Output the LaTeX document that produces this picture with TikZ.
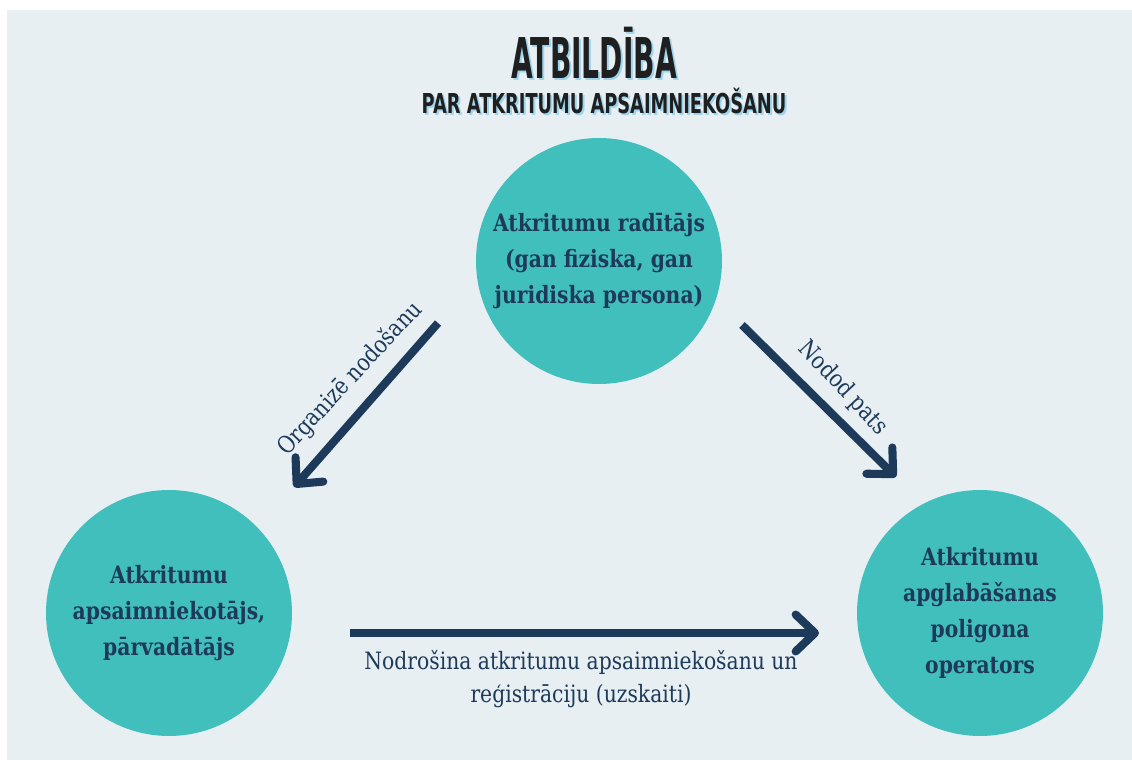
\documentclass[tikz,border=0pt]{standalone}
\usepackage{fontspec}
\usetikzlibrary{arrows.meta}

\setmainfont{DejaVu Serif}
\newfontfamily\headfont{DejaVu Sans}[FakeStretch=0.5]
\newfontfamily\subheadfont{DejaVu Sans}[FakeStretch=0.65]
\newfontfamily\circfont{DejaVu Serif}[FakeStretch=0.85]
\newfontfamily\labfont{DejaVu Serif}[FakeStretch=0.85]

\definecolor{bgcol}{HTML}{E7EFF3}
\definecolor{circcol}{HTML}{41BFBC}
\definecolor{navy}{HTML}{1E3A5A}
\definecolor{shadowcol}{HTML}{9DD4EE}

\begin{document}
\begin{tikzpicture}[x=0.02cm, y=-0.02cm]

% styles
\pgfkeys{/circ/.style={circle, fill=circcol, minimum size=4.92cm, inner sep=0}} % actors
\pgfkeys{/circtext/.style={align=center, text=navy, font=\circfont\bfseries\fontsize{13.6}{20.5}\selectfont}}
\pgfkeys{/link/.style={draw=navy, line width=4.6pt, -{Straight Barb[length=11pt, width=21pt, round]}}} % arrows
\pgfkeys{/lab/.style={text=navy, align=center, font=\labfont\fontsize{13.6}{18.5}\selectfont}} % arrow labels
\pgfkeys{/head/.style={font=\headfont\bfseries\fontsize{32}{32}\selectfont}}
\pgfkeys{/subhead/.style={font=\subheadfont\bfseries\fontsize{15.6}{16}\selectfont}}

%\draw[help lines] (0,0) grid[step=100] (1132,760);

% background
\useasboundingbox (0,0) rectangle (1132,760);
\fill[bgcol] (7,10) rectangle (1132,760);

% title with its shadow
\node[/head, text=shadowcol] (title-shadow) at (596,55) {ATBILDĪBA};
\node[/head, text=black!88] (title) at (594,53) {ATBILDĪBA};
\node[/subhead, text=shadowcol] (subtitle-shadow) at (606,103) {PAR ATKRITUMU APSAIMNIEKOŠANU};
\node[/subhead, text=black!88] (subtitle) at (604,101) {PAR ATKRITUMU APSAIMNIEKOŠANU};

% actors
\node[/circ] (gen) at (599,261) {};
\node[/circ] (mgr) at (169,613) {};
\node[/circ] (landfill) at (980,613) {};
\node[/circtext] (gen-text) at (gen) {Atkritumu radītājs\\(gan fiziska, gan\\juridiska persona)};
\node[/circtext] (mgr-text) at (mgr) {Atkritumu\\apsaimniekotājs,\\pārvadātājs};
\node[/circtext] (landfill-text) at (landfill) {Atkritumu\\apglabāšanas\\poligona\\operators};

% arrow ends
\coordinate (org-a) at (438,323);
\coordinate (org-b) at (294,487);
\coordinate (own-a) at (742,325);
\coordinate (own-b) at (896,477);
\coordinate (reg-a) at (350,633);
\coordinate (reg-b) at (819,633);

\draw[/link] (org-a) -- (org-b);
\draw[/link] (own-a) -- (own-b);
\draw[/link] (reg-a) -- (reg-b);

% labels
\node[/lab, rotate=47] (org-lab) at (350,379) {Organizē nodošanu};
\node[/lab, rotate=-47] (own-lab) at (843,388) {Nodod pats};
\node[/lab] (reg-lab) at (581,679) {Nodrošina atkritumu apsaimniekošanu un\\reģistrāciju (uzskaiti)};

\end{tikzpicture}
\end{document}
